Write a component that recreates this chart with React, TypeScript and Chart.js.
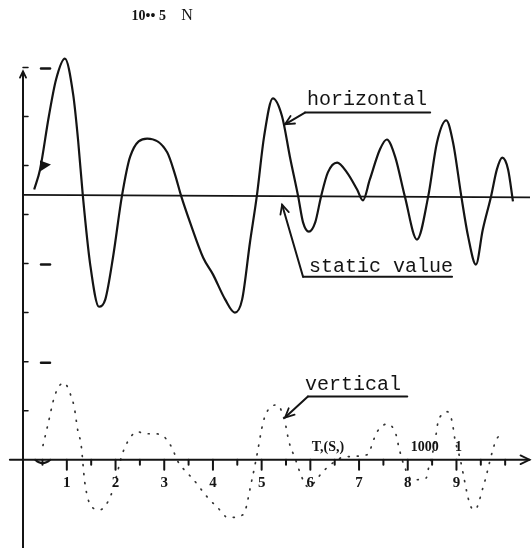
import React, { useEffect, useRef } from "react";
import { Chart, registerables } from "chart.js";

Chart.register(...registerables);

// horizontal force (solid curve), time units vs force units
const horizontalX = [0.33, 0.45, 0.63, 0.78, 0.96, 1.13, 1.23, 1.33, 1.48, 1.66, 1.79, 1.95, 2.13, 2.3, 2.65, 3.06, 3.22, 3.35, 3.53, 3.8, 4.0, 4.25, 4.45, 4.6, 4.76, 4.9, 5.05, 5.23, 5.42, 5.58, 5.75, 5.85, 5.97, 6.1, 6.22, 6.36, 6.55, 6.75, 6.96, 7.08, 7.22, 7.43, 7.57, 7.74, 7.94, 8.19, 8.42, 8.6, 8.79, 8.93, 9.1, 9.24, 9.4, 9.54, 9.71, 9.83, 9.94, 10.06, 10.16];
const horizontalY = [5.51, 5.92, 7.0, 7.76, 8.18, 7.45, 6.53, 5.37, 3.98, 3.12, 3.27, 4.14, 5.37, 6.18, 6.55, 6.27, 5.82, 5.37, 4.84, 4.12, 3.78, 3.27, 3.0, 3.27, 4.43, 5.37, 6.59, 7.37, 7.0, 6.18, 5.37, 4.84, 4.65, 4.84, 5.37, 5.86, 6.06, 5.86, 5.51, 5.29, 5.71, 6.33, 6.53, 6.18, 5.37, 4.49, 5.37, 6.47, 6.92, 6.47, 5.37, 4.55, 3.98, 4.69, 5.37, 5.92, 6.16, 5.92, 5.27];

// static value line
const staticX = [0.1, 10.51];
const staticY = [5.4, 5.35];

// vertical force (dotted curve)
const verticalX = [0.51, 0.61, 0.76, 0.94, 1.09, 1.15, 1.23, 1.29, 1.37, 1.5, 1.68, 1.91, 2.17, 2.46, 2.6, 2.77, 2.97, 3.08, 3.18, 3.26, 3.47, 3.57, 3.9, 4.1, 4.31, 4.62, 4.8, 4.9, 5.03, 5.11, 5.32, 5.48, 5.56, 5.69, 5.83, 5.95, 6.3, 6.71, 7.16, 7.37, 7.58, 7.76, 7.82, 7.94, 8.09, 8.38, 8.42, 8.56, 8.62, 8.7, 8.81, 8.91, 8.97, 9.07, 9.28, 9.38, 9.55, 9.83, 9.96];
const verticalY = [0.29, 0.71, 1.33, 1.57, 1.29, 1.08, 0.57, 0.33, -0.47, -0.95, -1.02, -0.71, 0.2, 0.57, 0.53, 0.53, 0.49, 0.37, 0.2, 0.0, -0.27, -0.37, -0.78, -0.98, -1.18, -1.12, -0.41, 0.08, 0.76, 0.98, 1.12, 0.76, 0.37, 0.02, -0.37, -0.55, -0.2, 0.06, 0.1, 0.57, 0.73, 0.51, 0.24, -0.16, -0.41, -0.37, -0.2, 0.37, 0.76, 0.92, 0.98, 0.78, 0.41, 0.04, -0.92, -1.02, -0.55, 0.43, 0.51];

const xTickValues = [1, 2, 3, 4, 5, 6, 7, 8, 9];
const xTickLabels = ["1", "2", "3", "4", "5", "6", "7", "8", "9"];
const yTickValues = [1, 2, 3, 4, 5, 6, 7, 8];

const titleBold = "10•• 5";
const titleUnit = "N";
const axisUnitText = "T,(S,)";
const axisScaleText = "1000";
const axisScaleText2 = "1";

const INK = "#141414";

function toPts(xs: number[], ys: number[]) {
  return xs.map((x, i) => ({ x, y: ys[i] }));
}

const decorPlugin = {
  id: "decor",
  afterDatasetsDraw(chart: any) {
    const { ctx, scales } = chart;
    const X = (v: number) => scales.x.getPixelForValue(v);
    const Y = (v: number) => scales.y.getPixelForValue(v);
    const line = (x1: number, y1: number, x2: number, y2: number, w = 1.5) => {
      ctx.lineWidth = w;
      ctx.beginPath();
      ctx.moveTo(x1, y1);
      ctx.lineTo(x2, y2);
      ctx.stroke();
    };
    const arrowHead = (fx: number, fy: number, tx: number, ty: number, size = 9) => {
      const a = Math.atan2(ty - fy, tx - fx);
      ctx.lineWidth = 1.8;
      ctx.beginPath();
      ctx.moveTo(tx - size * Math.cos(a - 0.45), ty - size * Math.sin(a - 0.45));
      ctx.lineTo(tx, ty);
      ctx.lineTo(tx - size * Math.cos(a + 0.45), ty - size * Math.sin(a + 0.45));
      ctx.stroke();
    };
    ctx.save();
    ctx.strokeStyle = INK;
    ctx.fillStyle = INK;
    ctx.lineCap = "round";

    // y axis
    const ax = X(0.1);
    const y0 = Y(0);
    line(ax, Y(7.9), ax, Y(-1.8), 2);
    arrowHead(ax, Y(7.0), ax, Y(7.92), 7);
    yTickValues.forEach((v) => line(ax, Y(v), ax + 5, Y(v), 1.5));
    [8, 4, 2].forEach((v) => line(ax + 18, Y(v) + 1, ax + 27, Y(v) + 1, 2.5));
    // blob mark at 6
    ctx.beginPath();
    ctx.moveTo(ax + 17, Y(6) - 5);
    ctx.lineTo(ax + 28, Y(6) - 1);
    ctx.lineTo(ax + 17, Y(6) + 6);
    ctx.closePath();
    ctx.fill();

    // x axis (bottom panel)
    line(X(-0.17), y0, X(10.5), y0, 2);
    arrowHead(X(10.2), y0, X(10.5), y0, 10);
    xTickValues.forEach((v) => line(X(v), y0, X(v), y0 + 10, 2));
    for (let v = 0.5; v < 10.4; v += 1) line(X(v), y0, X(v), y0 + 5, 2);
    line(X(10), y0, X(10), y0 + 5, 2);
    // small cup near origin
    ctx.lineWidth = 2;
    ctx.beginPath();
    ctx.moveTo(X(0.35), y0);
    ctx.quadraticCurveTo(X(0.5), y0 + 7, X(0.66), y0);
    ctx.stroke();

    ctx.font = 'bold 15px "Liberation Serif", serif';
    ctx.textAlign = "center";
    ctx.textBaseline = "middle";
    xTickValues.forEach((v, i) => ctx.fillText(xTickLabels[i], X(v), y0 + 23));

    ctx.font = 'bold 14px "Liberation Serif", serif';
    ctx.textAlign = "left";
    ctx.fillText(axisUnitText, X(6.03), Y(0.25));
    ctx.fillText(axisScaleText, X(8.06), Y(0.25));
    ctx.fillText(axisScaleText2, X(8.97), Y(0.25));

    // title / unit at top
    ctx.font = 'bold 14px "Liberation Serif", serif';
    ctx.fillText(titleBold, X(2.33), Y(9.05));
    ctx.font = '16px "Liberation Serif", serif';
    ctx.fillText(titleUnit, X(3.35), Y(9.05));

    // annotations
    ctx.font = '20px "Liberation Mono", monospace';
    ctx.textBaseline = "middle";
    const annots = [
      { text: "horizontal", tx: 5.93, ty: 7.35, u1: 5.89, u2: 8.46, uy: 7.08, ax: 5.48, ay: 6.84 },
      { text: "static value", tx: 5.97, ty: 3.94, u1: 5.85, u2: 8.91, uy: 3.73, ax: 5.42, ay: 5.2 },
      { text: "vertical", tx: 5.89, ty: 1.53, u1: 5.95, u2: 7.99, uy: 1.29, ax: 5.48, ay: 0.86 },
    ];
    annots.forEach((a) => {
      ctx.fillText(a.text, X(a.tx), Y(a.ty));
      line(X(a.u1), Y(a.uy), X(a.u2), Y(a.uy), 2);
      line(X(a.u1), Y(a.uy), X(a.ax), Y(a.ay), 2);
      arrowHead(X(a.u1), Y(a.uy), X(a.ax), Y(a.ay), 10);
    });
    ctx.restore();
  },
};

export default function App() {
  const ref = useRef<HTMLCanvasElement>(null);
  useEffect(() => {
    if (!ref.current) return;
    const chart = new Chart(ref.current, {
      type: "line",
      data: {
        datasets: [
          {
            label: "horizontal",
            data: toPts(horizontalX, horizontalY),
            borderColor: INK,
            borderWidth: 2.2,
            pointRadius: 0,
            cubicInterpolationMode: "monotone",
            fill: false,
          },
          {
            label: "static value",
            data: toPts(staticX, staticY),
            borderColor: INK,
            borderWidth: 1.6,
            pointRadius: 0,
            fill: false,
          },
          {
            label: "vertical",
            data: toPts(verticalX, verticalY),
            borderColor: "#333",
            borderWidth: 1.7,
            borderDash: [1, 8],
            borderCapStyle: "round",
            pointRadius: 0,
            cubicInterpolationMode: "monotone",
            fill: false,
          },
        ],
      },
      options: {
        responsive: false,
        animation: false,
        layout: { padding: { left: 23, right: 2, top: 38, bottom: 0 } },
        scales: {
          x: { type: "linear", min: 0.1, max: 10.51, display: false },
          y: { type: "linear", min: -1.8, max: 8.6, display: false },
        },
        plugins: { legend: { display: false }, tooltip: { enabled: false } },
        elements: { line: { tension: 0.4 } },
      },
      plugins: [decorPlugin],
    });
    return () => chart.destroy();
  }, []);
  return (
    <div style={{ position: "absolute", left: 0, top: 0, width: 532, height: 548, background: "#fff" }}>
      <canvas ref={ref} width={532} height={548} />
    </div>
  );
}
